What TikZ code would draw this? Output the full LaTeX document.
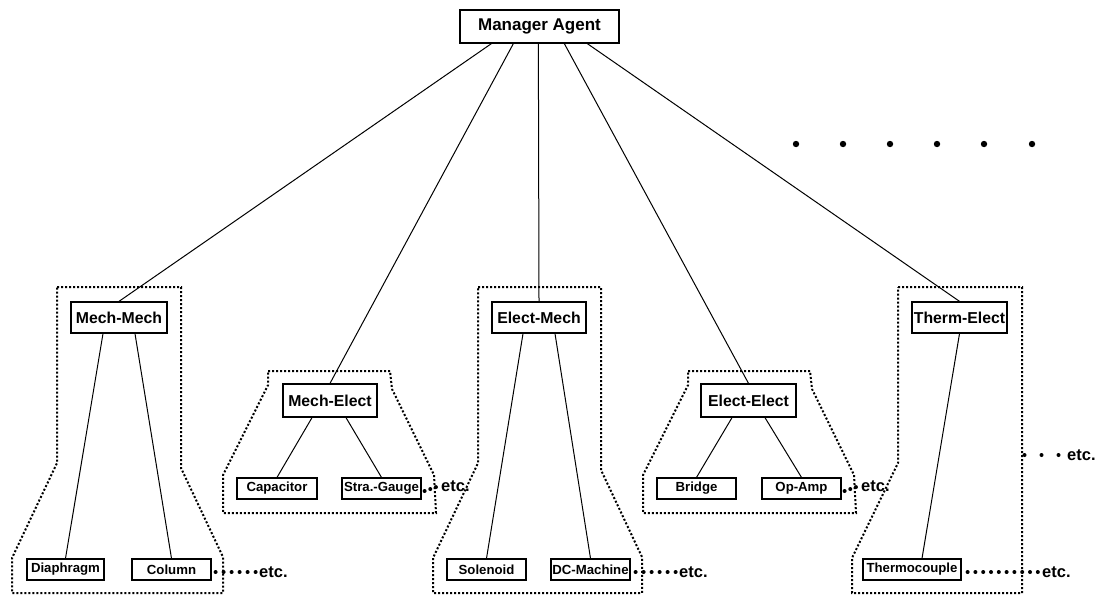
\documentclass[tikz,border=0pt]{standalone}
\usepackage{fontspec}
\setmainfont{Liberation Sans}
\begin{document}
\begin{tikzpicture}[x=1pt,y=-1pt,
  bigbox/.style={draw,line width=1.3pt,inner sep=0pt,minimum height=32pt,
    font=\bfseries\fontsize{15.8}{18}\selectfont},
  smallbox/.style={draw,line width=1.2pt,inner sep=0pt,minimum height=21pt,minimum width=79pt,
    font=\bfseries\fontsize{13.2}{15}\selectfont},
  link/.style={line width=1pt},
  groupline/.style={line width=2pt,dash pattern=on 2pt off 2pt},
  dotlink/.style={line width=4pt,line cap=round,dash pattern=on 0pt off 8pt},
  etctext/.style={inner sep=0pt,anchor=west,font=\bfseries\fontsize{16.5}{18}\selectfont}
]
\useasboundingbox (0,0) rectangle (1107,595);

% group outlines
\draw[groupline] (57,287)--(181,287)--(181,468)--(223,557)--(223,593)--(12,593)--(12,558)--(57,463)--cycle;
\draw[groupline] (268,371)--(390,371)--(392,389)--(434,475)--(436,513)--(223,513)--(223,475)--(268,385)--cycle;
\draw[groupline] (478,287)--(601,287)--(601,470)--(642,557)--(642,593)--(433,593)--(433,558)--(478,463)--cycle;
\draw[groupline] (688,371)--(810,371)--(812,389)--(854,475)--(856,513)--(643,513)--(643,475)--(688,385)--cycle;
\draw[groupline] (898,287)--(1022,287)--(1022,593)--(852,593)--(852,558)--(898,463)--cycle;

% nodes
\node[bigbox,minimum width=159pt,minimum height=33pt,font=\bfseries\fontsize{17}{20}\selectfont] (mgr) at (539.5,26.5) {Manager Agent};
\node[bigbox,minimum width=96pt,minimum height=31pt] (mm) at (119,317.5) {Mech-Mech};
\node[bigbox,minimum width=94pt,minimum height=33pt] (me) at (330,400.5) {Mech-Elect};
\node[bigbox,minimum width=94pt,minimum height=31pt] (em) at (539,317.5) {Elect-Mech};
\node[bigbox,minimum width=95pt,minimum height=33pt] (ee) at (748.5,400.5) {Elect-Elect};
\node[bigbox,minimum width=95pt,minimum height=31pt] (te) at (959.5,317.5) {Therm-Elect};

\node[smallbox,minimum width=77pt] (dia) at (65.5,569.5) {Diaphragm};
\node[smallbox] (col) at (171.5,569.5) {Column};
\node[smallbox,minimum width=80pt] (cap) at (277,488.5) {Capacitor};
\node[smallbox] (sg) at (381.5,488.5) {Stra.-Gauge};
\node[smallbox] (sol) at (486.5,569.5) {Solenoid};
\node[smallbox] (dc) at (590.5,569.5) {DC-Machine};
\node[smallbox] (bri) at (696.5,488.5) {Bridge};
\node[smallbox] (op) at (801.5,488.5) {Op-Amp};
\node[smallbox,minimum width=98pt] (th) at (912,569.5) {Thermocouple};

% etc labels
\node[etctext] (etc1) at (259,572) {etc.};
\node[etctext] (etc2) at (441,486) {etc.};
\node[etctext] (etc3) at (679,572) {etc.};
\node[etctext] (etc4) at (861,486) {etc.};
\node[etctext] (etc5) at (1042,572) {etc.};
\node[etctext] (etc6) at (1067,455) {etc.};
\coordinate (d6) at (1024.5,455);

% manager links
\draw[link] ([xshift=32pt]mgr.south west) -- (mm.north);
\draw[link] ([xshift=54pt]mgr.south west) -- (me.north);
\draw[link] ([xshift=79pt]mgr.south west) -- (em.north);
\draw[link] ([xshift=105pt]mgr.south west) -- (ee.north);
\draw[link] ([xshift=128pt]mgr.south west) -- (te.north);

% child links
\draw[link] ([xshift=-16pt]mm.south) -- (dia.north);
\draw[link] ([xshift=16pt]mm.south) -- (col.north);
\draw[link] ([xshift=-18pt]me.south) -- (cap.north);
\draw[link] ([xshift=16pt]me.south) -- (sg.north);
\draw[link] ([xshift=-16pt]em.south) -- (sol.north);
\draw[link] ([xshift=16pt]em.south) -- (dc.north);
\draw[link] ([xshift=-16.5pt]ee.south) -- (bri.north);
\draw[link] ([xshift=16.5pt]ee.south) -- (op.north);
\draw[link] (te.south) -- ([xshift=10pt]th.north);

% dotted etc links
\draw[dotlink] ([xshift=4pt,yshift=-2.5pt]col.east) -- ([xshift=-3pt,yshift=0pt]etc1.west);
\draw[dotlink,dash pattern=on 0pt off 6pt] ([xshift=3pt,yshift=-2.5pt]sg.east) -- ([xshift=-2pt]etc2.west);
\draw[dotlink] ([xshift=5pt,yshift=-2.5pt]dc.east) -- ([xshift=-3pt]etc3.west);
\draw[dotlink,dash pattern=on 0pt off 6pt] ([xshift=3pt,yshift=-2.5pt]op.east) -- ([xshift=-2pt]etc4.west);
\draw[dotlink,dash pattern=on 0pt off 7.8pt] ([xshift=6pt,yshift=-2.5pt]th.east) -- ([xshift=-2pt]etc5.west);
\draw[dotlink,dash pattern=on 0pt off 17pt] (d6) -- ([xshift=-1pt]etc6.west);

% top continuation dots
\foreach \x in {796,843,890,937,984,1032}
  \fill (\x,144) circle[radius=3.2pt];
\end{tikzpicture}
\end{document}
